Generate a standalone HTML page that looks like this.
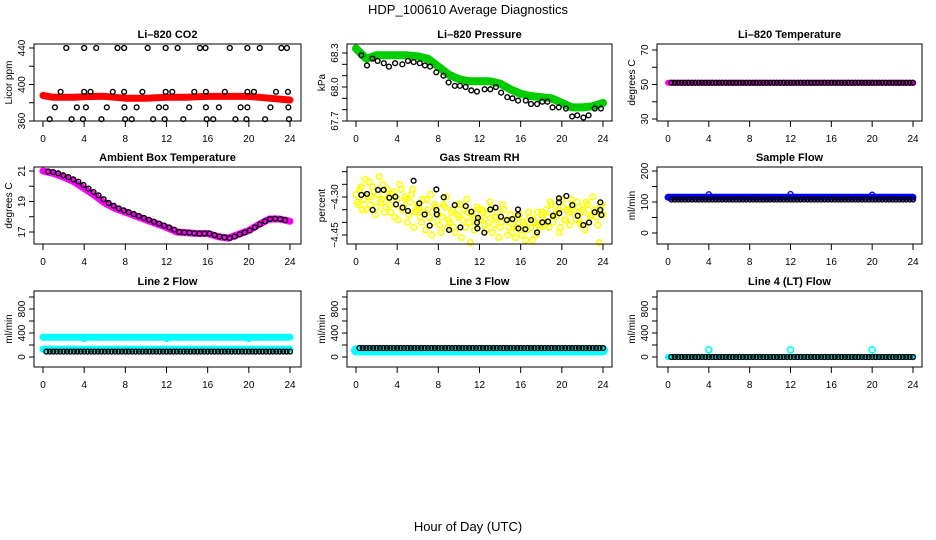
<!DOCTYPE html>
<html><head><meta charset="utf-8"><title>HDP_100610 Average Diagnostics</title>
<style>
html,body{margin:0;padding:0;background:#fff;}
svg{display:block;font-family:"Liberation Sans",Arial,sans-serif;}
</style></head>
<body>
<svg id="chart" width="936" height="540" viewBox="0 0 936 540" xmlns="http://www.w3.org/2000/svg">
<rect width="936" height="540" fill="#fff"/>
<text x="468" y="14" text-anchor="middle" font-size="13">HDP_100610  Average Diagnostics</text>
<text x="468" y="531" text-anchor="middle" font-size="13">Hour of Day (UTC)</text>
</svg>
<script>
// ---------- data ----------
const xTicks = [0,4,8,12,16,20,24];
const co2Red = [388,386,386,386,386.5,387,387,386,385,385,385,385.5,386,386,386,386.5,387,387,387,387,387,386,385,384,383];
const co2BlackHours = [2.26,4.0,5.17,7.24,7.88,10.17,11.92,13.08,15.25,15.79,18.15,19.86,21.06,23.16,23.7,
 1.71,4.0,4.62,6.78,7.88,9.66,11.92,12.56,14.7,15.83,17.67,19.86,20.5,22.64,23.8,
 1.16,3.29,4.17,6.2,7.91,9.1,11.27,11.92,14.2,15.83,17.09,19.2,19.86,22.1,23.84,
 0.65,2.78,3.88,5.68,7.98,8.62,10.7,11.82,13.63,15.9,16.54,18.7,19.77,21.58,23.9];
const co2BlackValues = [440,440,440,440,440,440,440,440,440,440,440,440,440,440,440,
 392,392,392,392,392,392,392,392,392,392,392,392,392,392,392,
 375,375,375,375,375,375,375,375,375,375,375,375,375,375,375,
 362,362,362,362,362,362,362,362,362,362,362,362,362,362,362];
const presGreen = [68.34,68.25,68.28,68.28,68.28,68.28,68.27,68.25,68.18,68.11,68.07,68.05,68.05,68.05,68.03,67.98,67.94,67.92,67.91,67.90,67.86,67.82,67.82,67.83,67.86];
const presBlackHours = [0.52,1.07,1.6,2.1,2.7,3.2,3.8,4.5,5.05,5.6,6.2,6.7,7.2,7.8,8.5,9.0,9.6,10.1,10.65,11.2,11.75,12.5,13.05,13.6,14.1,14.7,15.2,15.75,16.5,17.0,17.6,18.1,18.6,19.1,19.7,20.4,21.0,21.5,22.1,22.6,23.2,23.8];
const presBlackValues = [68.28,68.19,68.25,68.23,68.21,68.18,68.21,68.20,68.23,68.22,68.21,68.19,68.18,68.13,68.10,68.04,68.01,68.01,68.00,67.97,67.96,67.98,67.98,68.00,67.95,67.91,67.90,67.88,67.88,67.85,67.85,67.87,67.87,67.82,67.82,67.81,67.74,67.75,67.73,67.75,67.81,67.81];
const tempMagenta = [51,51,51,51,51,51,51,51,51,51,51,51,51,51,51,51,51,51,51,51,51,51,51,51,51];
const tempBlack = [51,51,51,51,51,51,51,51,51,51,51,51,51,51,51,51,51,51,51,51,51,51,51,51];
const ambMagenta = [21.0,20.85,20.6,20.3,19.85,19.4,18.9,18.55,18.3,18.05,17.8,17.55,17.3,17.0,16.95,16.9,16.9,16.7,16.6,16.85,17.1,17.5,17.85,17.85,17.7];
const ambBlack = [20.97,20.93,20.85,20.72,20.6,20.45,20.3,20.08,19.85,19.62,19.4,19.15,18.9,18.72,18.55,18.42,18.3,18.17,18.05,17.92,17.8,17.67,17.55,17.42,17.3,17.15,17.0,16.97,16.95,16.92,16.9,16.9,16.9,16.8,16.7,16.65,16.6,16.7,16.85,16.97,17.1,17.3,17.5,17.7,17.85,17.88,17.85,17.78];
const rhYellowA = [-4.29,-4.33,-4.26,-4.31,-4.35,-4.24,-4.30,-4.28,-4.34,-4.22,-4.31,-4.36,-4.27,
 -4.33,-4.29,-4.38,-4.31,-4.25,-4.35,-4.30,-4.40,-4.32,-4.27,-4.36,-4.33,
 -4.38,-4.31,-4.43,-4.35,-4.29,-4.40,-4.34,-4.37,-4.44,-4.33,-4.30,-4.39,
 -4.36,-4.42,-4.33,-4.38,-4.46,-4.35,-4.31,-4.40,-4.37,-4.43,-4.34,-4.39,
 -4.35,-4.41,-4.37,-4.32,-4.44,-4.38,-4.36,-4.42,-4.33,-4.39,-4.45,-4.37,
 -4.41,-4.46,-4.38,-4.43,-4.40,-4.47,-4.36,-4.42,-4.39,-4.45,-4.41,-4.37,
 -4.40,-4.35,-4.42,-4.33,-4.38,-4.36,-4.44,-4.31,-4.39,-4.35,-4.41,-4.34,
 -4.37,-4.32,-4.40,-4.35,-4.43,-4.33,-4.38,-4.30,-4.36,-4.41,-4.34,-4.37];
const rhYellowB = [-4.32,-4.27,-4.35,-4.23,-4.30,-4.33,-4.26,-4.37,-4.29,-4.32,-4.25,-4.34,
 -4.30,-4.36,-4.28,-4.33,-4.39,-4.27,-4.34,-4.31,-4.37,-4.29,-4.42,-4.35,
 -4.34,-4.40,-4.36,-4.31,-4.38,-4.45,-4.33,-4.36,-4.41,-4.38,-4.34,-4.42,
 -4.40,-4.35,-4.44,-4.37,-4.33,-4.39,-4.42,-4.36,-4.48,-4.38,-4.41,-4.35,
 -4.39,-4.36,-4.43,-4.40,-4.34,-4.41,-4.38,-4.46,-4.40,-4.35,-4.39,-4.42,
 -4.44,-4.39,-4.42,-4.37,-4.45,-4.41,-4.43,-4.38,-4.47,-4.40,-4.36,-4.42,
 -4.36,-4.41,-4.38,-4.32,-4.40,-4.37,-4.35,-4.42,-4.34,-4.39,-4.36,-4.31,
 -4.35,-4.39,-4.34,-4.41,-4.36,-4.32,-4.40,-4.37,-4.35,-4.38,-4.48,-4.33];
const rhBlackHours = [0.52,1.07,1.62,2.14,2.69,3.24,3.82,3.89,4.53,5.05,5.6,6.15,6.67,7.16,7.81,7.81,7.85,8.52,9.04,9.59,10.14,10.66,11.21,11.76,11.8,11.85,12.47,13.05,13.57,14.09,14.67,15.19,15.74,15.74,15.78,16.45,17.0,17.59,18.1,18.66,19.14,19.72,19.72,19.75,20.44,21.02,21.54,22.09,22.64,23.19,23.74,23.74,23.84];
const rhBlackValues = [-4.292,-4.288,-4.351,-4.272,-4.272,-4.303,-4.299,-4.329,-4.342,-4.355,-4.236,-4.325,-4.369,-4.413,-4.270,-4.351,-4.369,-4.301,-4.430,-4.332,-4.420,-4.336,-4.358,-4.401,-4.424,-4.382,-4.441,-4.349,-4.342,-4.378,-4.391,-4.387,-4.349,-4.371,-4.424,-4.427,-4.391,-4.440,-4.400,-4.397,-4.374,-4.305,-4.321,-4.364,-4.296,-4.332,-4.374,-4.411,-4.401,-4.360,-4.321,-4.351,-4.371];
const sampleBlue = [115,115,115,115,115,115,115,115,115,115,115,115,115,115,115,115,115,115,115,115,115,115,115,115,115];
const sampleBlack = [108,108,108,108,108,108,108,108,108,108,108,108,108,108,108,108,108,108,108,108,108,108,108,108];
const spikeHours = [4,12,20];
const sampleBlueSpikes = [125,126,124];
const line2CyanUpper = [330,330,330,330,330,330,330,330,330,330,330,330,330,330,330,330,330,330,330,330,330,330,330,330,330];
const line2CyanLower = [130,130,130,130,130,130,130,130,130,130,130,130,130,130,130,130,130,130,130,130,130,130,130,130,130];
const line2Dips = [300,300,300];
const line2Black = [90,90,90,90,90,90,90,90,90,90,90,90,90,90,90,90,90,90,90,90,90,90,90,90];
const line3Cyan = [110,110,110,110,110,110,110,110,110,110,110,110,110,110,110,110,110,110,110,110,110,110,110,110,110];
const line3Black = [150,150,150,150,150,150,150,150,150,150,150,150,150,150,150,150,150,150,150,150,150,150,150,150];
const line4Cyan = [0,0,0,0,0,0,0,0,0,0,0,0,0,0,0,0,0,0,0,0,0,0,0,0];
const line4Black = [0,0,0,0,0,0,0,0,0,0,0,0,0,0,0,0,0,0,0,0,0,0,0,0];
const line4Spikes = [120,120,120];

// ---------- layout ----------
const svg = document.getElementById('chart');
const NS = 'http://www.w3.org/2000/svg';
const colBox = [[34,301],[347,612],[657,922]];
const colHour = [[43,290],[356,603],[668,913]];
const rowBox = [[44,121],[167,244],[291,367]];
function mk(tag, attrs, parent){const e=document.createElementNS(NS,tag);for(const k in attrs)e.setAttribute(k,attrs[k]);(parent||svg).appendChild(e);return e;}

function makePanel(col,row,name,title,ylab,ticks,labels,v0,p0,v1,p1){
  const g = mk('g',{});
  
  
  const [bx0,bx1]=colBox[col],[by0,by1]=rowBox[row],[hx0,hx1]=colHour[col];
  const X = h => hx0 + (hx1-hx0)*h/24;
  const Y = v => p0 + (p1-p0)*(v-v0)/(v1-v0);
  const t = mk('text',{x:(bx0+bx1)/2,y:by0-6,'text-anchor':'middle','font-size':11,'font-weight':'bold'},g);
  t.textContent = title;
  
  
  const plot = mk('g',{},g);
  
  
  const frame = mk('rect',{x:bx0,y:by0,width:bx1-bx0,height:by1-by0,fill:'none',stroke:'#000','stroke-width':1},g);
  
  
  // x axis
  xTicks.forEach(h=>{
    mk('line',{x1:X(h),x2:X(h),y1:by1,y2:by1+6,stroke:'#000'},g);
    const l = mk('text',{x:X(h),y:by1+21,'text-anchor':'middle','font-size':10},g);
    l.textContent = h;
    
    
  });
  // y axis
  ticks.forEach(v=>{
    mk('line',{x1:bx0-5,x2:bx0,y1:Y(v),y2:Y(v),stroke:'#000'},g);
  });
  labels.forEach(v=>{
    const yy=Y(v), xx=bx0-9;
    const l = mk('text',{x:xx,y:yy,'text-anchor':'middle','font-size':10,transform:`rotate(-90 ${xx} ${yy})`},g);
    l.textContent = String(v).replace('-','\u2212');
    
    
  });
  const yl = mk('text',{x:bx0-22,y:(by0+by1)/2,'text-anchor':'middle','font-size':10,transform:`rotate(-90 ${bx0-22} ${(by0+by1)/2})`},g);
  yl.textContent = ylab;
  
  
  return {g:plot,X,Y};
}
function band(P,vals,color,w,name){
  const pts = vals.map((v,i)=>P.X(i*24/(vals.length-1)).toFixed(1)+','+P.Y(v).toFixed(1)).join(' ');
  const l = mk('polyline',{points:pts,fill:'none',stroke:color,'stroke-width':w,'stroke-linecap':'round','stroke-linejoin':'round'},P.g);
  
  
}
function pts(P,hours,vals,color,name,r,sw){
  vals.forEach((v,i)=>{
    const c = mk('circle',{cx:P.X(hours[i]),cy:P.Y(v),r:r||2.4,fill:'none',stroke:color,'stroke-width':sw||1.4},P.g);
    
    
  });
}
function hourly3(P,vals,color,name){ // three markers per hourly block
  vals.forEach((v,i)=>{
    for(let k=1;k<=3;k++){
      const c = mk('circle',{cx:P.X(i+k/3),cy:P.Y(v),r:2.4,fill:'none',stroke:color,'stroke-width':1.4},P.g);
      
      
    }
  });
}
function seqHours(n,start,step){const a=[];for(let i=0;i<n;i++)a.push(start+i*step);return a;}

// Panel 1: CO2
let P = makePanel(0,0,'co2','Li\u2013820 CO2','Licor ppm',[360,380,400,420,440],[360,400,440],360,121,440,48);
band(P,co2Red,'#ff0000',7,'co2-red-series');
pts(P,co2BlackHours,co2BlackValues,'#000','co2-black-point');

// Panel 2: Pressure
P = makePanel(1,0,'pressure','Li\u2013820 Pressure','kPa',[67.7,67.8,67.9,68.0,68.1,68.2,68.3],['67.7','68.0','68.3'],67.7,121,68.3,53);
band(P,presGreen,'#00cc00',8,'pressure-green-series');
pts(P,presBlackHours,presBlackValues,'#000','pressure-black-point');

// Panel 3: Temperature
P = makePanel(2,0,'temperature','Li\u2013820 Temperature','degrees C',[30,40,50,60,70],[30,50,70],30,119,70,50);
band(P,tempMagenta,'#ff00ff',6,'temperature-magenta-series');
hourly3(P,tempBlack,'#000','temperature-black-point');

// Panel 4: Ambient
P = makePanel(0,1,'ambient','Ambient Box Temperature','degrees C',[17,18,19,20,21],[17,19,21],17,232,21,171);
band(P,ambMagenta,'#ff00ff',7,'ambient-magenta-series');
pts(P,seqHours(48,0.5,0.49),ambBlack,'#000','ambient-black-point');

// Panel 5: RH
P = makePanel(1,1,'rh','Gas Stream RH','percent',[-4.45,-4.40,-4.35,-4.30,-4.25,-4.20],['-4.45','-4.30'],-4.45,235,-4.30,197);
pts(P,seqHours(97,0,0.25),rhYellowA,'#ffff00','rh-yellow-point',2.8,1.6);
pts(P,seqHours(96,0.125,0.25),rhYellowB,'#ffff00','rh-yellow-point',2.8,1.6);
pts(P,rhBlackHours,rhBlackValues,'#000','rh-black-point');

// Panel 6: Sample flow
P = makePanel(2,1,'sample-flow','Sample Flow','ml/min',[0,50,100,150,200],[0,100,200],0,233,200,171);
band(P,sampleBlue,'#0000ff',7,'sample-blue-series');
pts(P,spikeHours,sampleBlueSpikes,'#0000ff','sample-blue-spike');
hourly3(P,sampleBlack,'#000','sample-black-point');

// Panel 7: Line 2
P = makePanel(0,2,'line2','Line 2 Flow','ml/min',[0,200,400,600,800,1000],[0,400,800],0,357,800,309);
band(P,line2CyanUpper,'#00ffff',7,'line2-cyan-upper');
pts(P,spikeHours,line2Dips,'#00ffff','line2-cyan-dip');
band(P,line2CyanLower,'#00ffff',7,'line2-cyan-lower');
hourly3(P,line2Black,'#000','line2-black-point');

// Panel 8: Line 3
P = makePanel(1,2,'line3','Line 3 Flow','ml/min',[0,200,400,600,800,1000],[0,400,800],0,357,800,309);
band(P,line3Cyan,'#00ffff',10,'line3-cyan-series');
hourly3(P,line3Black,'#000','line3-black-point');

// Panel 9: Line 4
P = makePanel(2,2,'line4','Line 4 (LT) Flow','ml/min',[0,200,400,600,800,1000],[0,400,800],0,357,800,309);
band(P,[0,0],'#00ffff',6,'line4-cyan-series');
pts(P,spikeHours,line4Spikes,'#00ffff','line4-cyan-spike',3,1.6);
hourly3(P,line4Black,'#000','line4-black-point');
</script>
</body></html>
